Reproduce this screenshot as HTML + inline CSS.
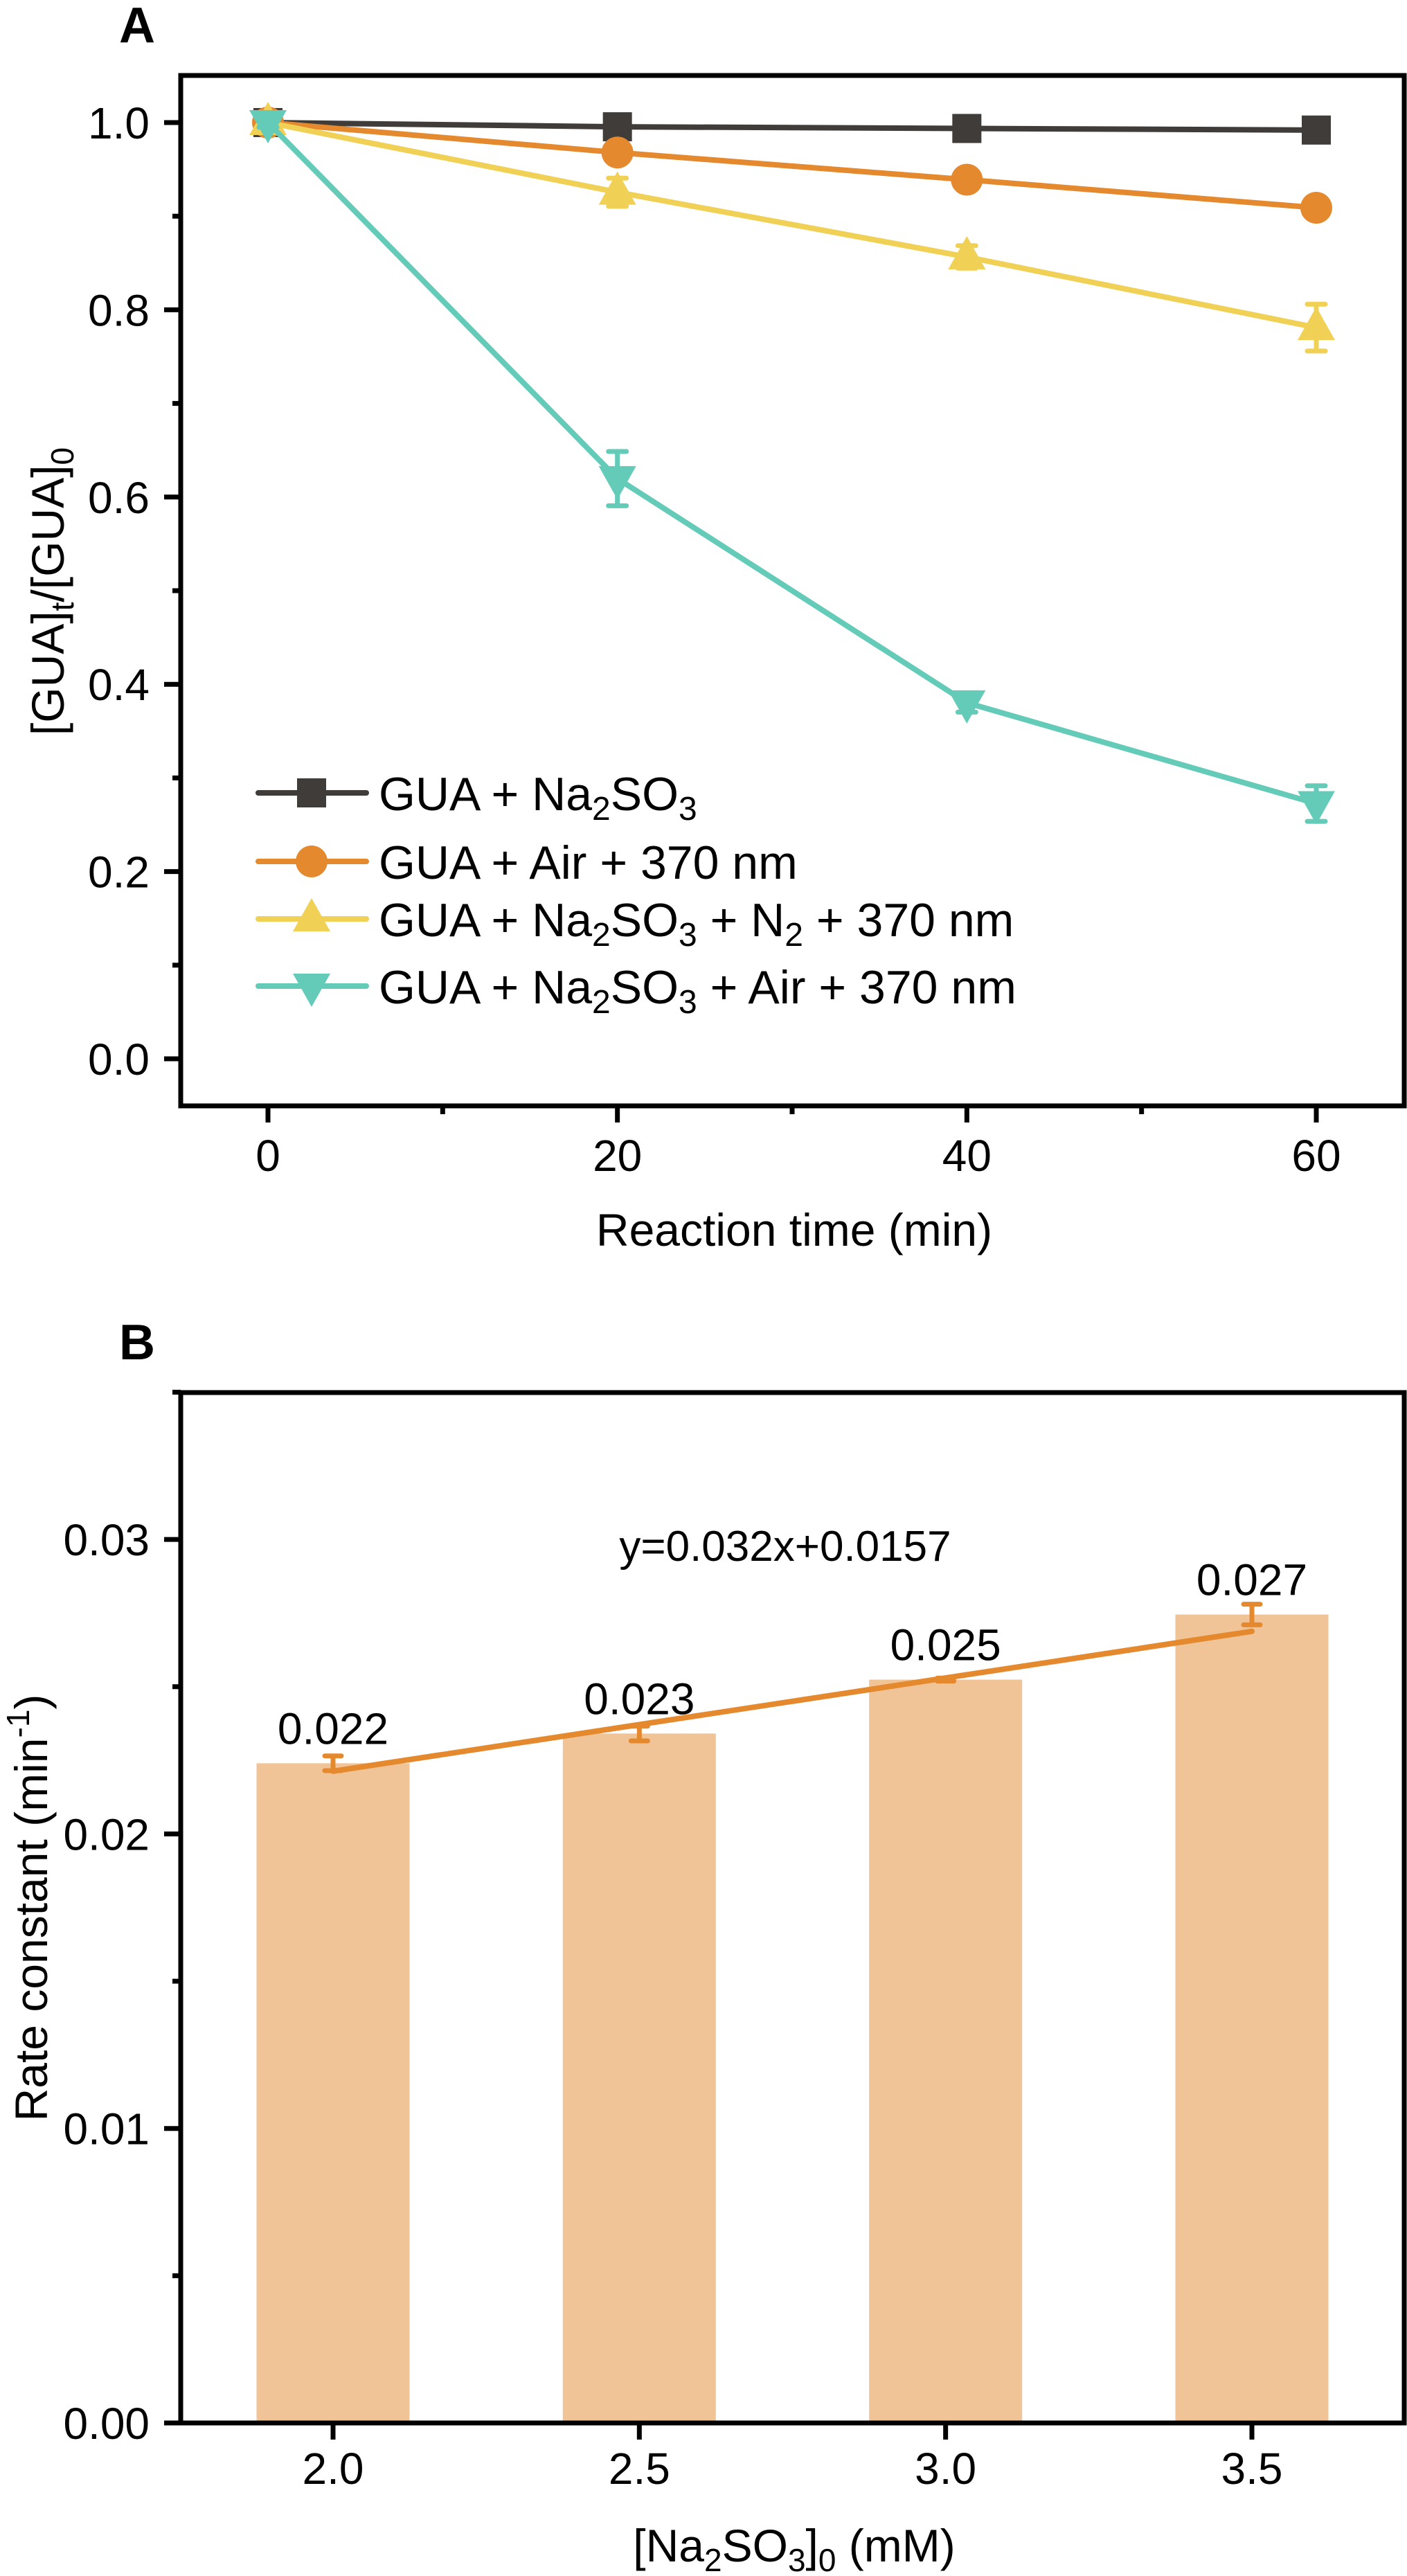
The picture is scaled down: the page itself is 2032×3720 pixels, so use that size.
<!DOCTYPE html>
<html><head><meta charset="utf-8"><style>
html,body{margin:0;padding:0;background:#fff;}
svg{display:block;font-family:"Liberation Sans",Arial,sans-serif;}
</style></head><body>
<svg id="fig" width="2032" height="3720" viewBox="0 0 2032 3720" xmlns="http://www.w3.org/2000/svg">
<rect x="0" y="0" width="2032" height="3720" fill="#fff"/>
<text x="172" y="61" font-size="72" font-weight="bold">A</text>
<text x="172" y="1963" font-size="72" font-weight="bold">B</text>
<g id="chartA"></g>
<g id="chartB"></g>
</svg>
<script>
// ---------- Panel A data ----------
const timesA = [0, 20, 40, 60];
const seriesNames = ["GUA + Na2SO3", "GUA + Air + 370 nm", "GUA + Na2SO3 + N2 + 370 nm", "GUA + Na2SO3 + Air + 370 nm"];
const valsBlack = [1.0, 0.9955, 0.9937, 0.992];
const valsOrange = [1.0, 0.968, 0.939, 0.909];
const valsYellow = [1.0, 0.9256, 0.8565, 0.781];
const valsTeal = [1.0, 0.6197, 0.3803, 0.2726];
const errBlack = [0.003, 0.004, 0.004, 0.005];
const errOrange = [0.004, 0.008, 0.01, 0.01];
const errYellow = [0.005, 0.015, 0.012, 0.025];
const errTeal = [0.005, 0.029, 0.01, 0.019];
const yTicksA = [0.0, 0.2, 0.4, 0.6, 0.8, 1.0];
const yTickLabelsA = ["0.0", "0.2", "0.4", "0.6", "0.8", "1.0"];
const xTicksA = [0, 20, 40, 60];
const xTickLabelsA = ["0", "20", "40", "60"];

// ---------- Panel B data ----------
const concB = [2.0, 2.5, 3.0, 3.5];
const concLabelsB = ["2.0", "2.5", "3.0", "3.5"];
const rateB = [0.0224, 0.02341, 0.02524, 0.02745];
const rateErrB = [0.00025, 0.00025, 0.00005, 0.00035];
const rateLabelsB = ["0.022", "0.023", "0.025", "0.027"];
const fitB = [0.02213, 0.02688];
const yTicksB = [0.00, 0.01, 0.02, 0.03];
const yTickLabelsB = ["0.00", "0.01", "0.02", "0.03"];

const NS = "http://www.w3.org/2000/svg";
function mk(parent, tag, attrs) {
  const e = document.createElementNS(NS, tag);
  for (const k in attrs) e.setAttribute(k, attrs[k]);
  parent.appendChild(e);
  return e;
}

// ===== Panel A =====
const gA = document.getElementById('chartA');
const A = {l:261, t:109, r:2028, b:1597};
const xA = t => 387 + t * (1901 - 387) / 60;
const yA = v => 1529 - v * 1352;

for (let i = 0; i < yTicksA.length; i++) {
  const y = yA(yTicksA[i]);
  const tk = mk(gA, 'line', {x1:A.l-24, x2:A.l, y1:y, y2:y, stroke:'#000', 'stroke-width':7});
  
  
  const lb = mk(gA, 'text', {x:216, y:y+23, 'font-size':64, 'text-anchor':'end'});
  lb.textContent = yTickLabelsA[i];
  
  
}
for (let v = 0.1; v < 1.05; v += 0.2) {
  const y = yA(v);
  const tk = mk(gA, 'line', {x1:A.l-12, x2:A.l, y1:y, y2:y, stroke:'#000', 'stroke-width':7});
  
  
}
for (let i = 0; i < xTicksA.length; i++) {
  const x = xA(xTicksA[i]);
  const tk = mk(gA, 'line', {x1:x, x2:x, y1:A.b, y2:A.b+24, stroke:'#000', 'stroke-width':7});
  
  
  const lb = mk(gA, 'text', {x:x, y:1691, 'font-size':64, 'text-anchor':'middle'});
  lb.textContent = xTickLabelsA[i];
  
  
}
for (const t of [10, 30, 50]) {
  const x = xA(t);
  const tk = mk(gA, 'line', {x1:x, x2:x, y1:A.b, y2:A.b+12, stroke:'#000', 'stroke-width':7});
  
  
}

const colors = ['#403c3a', '#e5892f', '#f0d055', '#63cbb8'];
const allVals = [valsBlack, valsOrange, valsYellow, valsTeal];
const allErr = [errBlack, errOrange, errYellow, errTeal];
const markerNames = ['square', 'circle', 'triangle-up', 'triangle-down'];

function marker(g, type, cx, cy, color) {
  let m;
  if (type === 'square') m = mk(g, 'rect', {x:cx-21, y:cy-21, width:42, height:42, fill:color});
  else if (type === 'circle') m = mk(g, 'circle', {cx:cx, cy:cy, r:23, fill:color});
  else if (type === 'triangle-up') m = mk(g, 'polygon', {points:`${cx},${cy-30} ${cx-27},${cy+18} ${cx+27},${cy+18}`, fill:color});
  else m = mk(g, 'polygon', {points:`${cx},${cy+30} ${cx-27},${cy-18} ${cx+27},${cy-18}`, fill:color});
  return m;
}

for (let s = 0; s < 4; s++) {
  const g = mk(gA, 'g', {});
  
  
  const pts = timesA.map((t, i) => xA(t) + ',' + yA(allVals[s][i])).join(' ');
  const pl = mk(g, 'polyline', {points:pts, fill:'none', stroke:colors[s], 'stroke-width':8, 'stroke-linejoin':'round'});
  
  
  for (let i = 0; i < timesA.length; i++) {
    const x = xA(timesA[i]);
    const y1 = yA(allVals[s][i] + allErr[s][i]), y2 = yA(allVals[s][i] - allErr[s][i]);
    const eb = mk(g, 'path', {d:`M${x},${y1}V${y2}M${x-13},${y1}H${x+13}M${x-13},${y2}H${x+13}`, stroke:colors[s], 'stroke-width':7, 'stroke-linecap':'round', fill:'none'});
    
    
    const m = marker(g, markerNames[s], x, yA(allVals[s][i]), colors[s]);
    
    
  }
}

const legY = [1145, 1244, 1327, 1424];
const legHtml = [
  'GUA + Na<tspan baseline-shift="-30%" font-size="48">2</tspan>SO<tspan baseline-shift="-30%" font-size="48">3</tspan>',
  'GUA + Air + 370 nm',
  'GUA + Na<tspan baseline-shift="-30%" font-size="48">2</tspan>SO<tspan baseline-shift="-30%" font-size="48">3</tspan> + N<tspan baseline-shift="-30%" font-size="48">2</tspan> + 370 nm',
  'GUA + Na<tspan baseline-shift="-30%" font-size="48">2</tspan>SO<tspan baseline-shift="-30%" font-size="48">3</tspan> + Air + 370 nm'
];
const leg = mk(gA, 'g', {});


for (let s = 0; s < 4; s++) {
  const e = mk(leg, 'g', {});
  
  
  mk(e, 'line', {x1:373, x2:529, y1:legY[s], y2:legY[s], stroke:colors[s], 'stroke-width':8, 'stroke-linecap':'round'});
  marker(e, markerNames[s], 450, legY[s], colors[s]);
  const t = mk(e, 'text', {x:547, y:legY[s]+25, 'font-size':68});
  t.innerHTML = legHtml[s];
}

const fA = mk(gA, 'rect', {x:A.l, y:A.t, width:A.r-A.l, height:A.b-A.t, fill:'none', stroke:'#000', 'stroke-width':7});


const xtA = mk(gA, 'text', {x:1147, y:1799, 'font-size':66, 'text-anchor':'middle'});
xtA.textContent = 'Reaction time (min)';


const ytA = mk(gA, 'text', {x:0, y:0, 'font-size':66, 'text-anchor':'middle', transform:'translate(92,854) rotate(-90)'});
ytA.innerHTML = '[GUA]<tspan baseline-shift="-30%" font-size="46">t</tspan>/[GUA]<tspan baseline-shift="-30%" font-size="46">0</tspan>';



// ===== Panel B =====
const gB = document.getElementById('chartB');
const B = {l:261, t:2011, r:2028, b:3499};
const xB = c => 481 + (c - 2.0) * (1808 - 481) / 1.5;
const yB = v => 3499 - v * 42530;
const barW = 221;

for (let i = 0; i < yTicksB.length; i++) {
  const y = yB(yTicksB[i]);
  const tk = mk(gB, 'line', {x1:B.l-24, x2:B.l, y1:y, y2:y, stroke:'#000', 'stroke-width':7});
  
  
  const lb = mk(gB, 'text', {x:216, y:y+23, 'font-size':64, 'text-anchor':'end'});
  lb.textContent = yTickLabelsB[i];
  
  
}
for (const v of [0.005, 0.015, 0.025, 0.035]) {
  const y = yB(v);
  const tk = mk(gB, 'line', {x1:B.l-12, x2:B.l, y1:y, y2:y, stroke:'#000', 'stroke-width':7});
  
  
}
for (let i = 0; i < concB.length; i++) {
  const x = xB(concB[i]);
  const bar = mk(gB, 'rect', {x:x-barW/2, y:yB(rateB[i]), width:barW, height:yB(0)-yB(rateB[i]), fill:'#f1c498'});
  
  
  const tk = mk(gB, 'line', {x1:x, x2:x, y1:B.b, y2:B.b+24, stroke:'#000', 'stroke-width':7});
  
  
  const lb = mk(gB, 'text', {x:x, y:3587, 'font-size':64, 'text-anchor':'middle'});
  lb.textContent = concLabelsB[i];
  
  
}
const fit = mk(gB, 'line', {x1:xB(concB[0]), y1:yB(fitB[0]), x2:xB(concB[3]), y2:yB(fitB[1]), stroke:'#e5892f', 'stroke-width':8, 'stroke-linecap':'round'});


for (let i = 0; i < concB.length; i++) {
  const x = xB(concB[i]);
  const y1 = yB(rateB[i] + rateErrB[i]), y2 = yB(rateB[i] - rateErrB[i]);
  const eb = mk(gB, 'path', {d:`M${x},${y1}V${y2}M${x-12},${y1}H${x+12}M${x-12},${y2}H${x+12}`, stroke:'#e5892f', 'stroke-width':7, 'stroke-linecap':'round', fill:'none'});
  
  
  const vl = mk(gB, 'text', {x:x, y:yB(rateB[i]) - 28, 'font-size':64, 'text-anchor':'middle'});
  vl.textContent = rateLabelsB[i];
  
  
}
const eq = mk(gB, 'text', {x:1134, y:2254, 'font-size':62, 'text-anchor':'middle'});
eq.textContent = 'y=0.032x+0.0157';



const fB = mk(gB, 'rect', {x:B.l, y:B.t, width:B.r-B.l, height:B.b-B.t, fill:'none', stroke:'#000', 'stroke-width':7});


const xtB = mk(gB, 'text', {x:1147, y:3699, 'font-size':66, 'text-anchor':'middle'});
xtB.innerHTML = '[Na<tspan baseline-shift="-30%" font-size="46">2</tspan>SO<tspan baseline-shift="-30%" font-size="46">3</tspan>]<tspan baseline-shift="-30%" font-size="46">0</tspan> (mM)';


const ytB = mk(gB, 'text', {x:0, y:0, 'font-size':66, 'text-anchor':'middle', transform:'translate(68,2755) rotate(-90)'});
ytB.innerHTML = 'Rate constant (min<tspan baseline-shift="super" font-size="46">-1</tspan>)';


</script>
</body></html>
